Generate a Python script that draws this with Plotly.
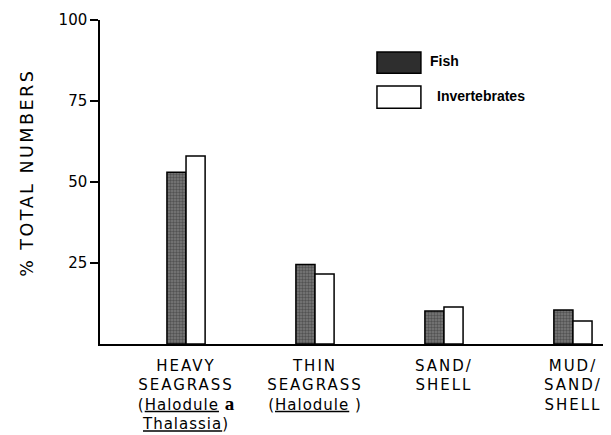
import plotly.graph_objects as go

categories = [
    "<span style='letter-spacing:2px'>HEAVY<br>SEAGRASS</span><br><span style='letter-spacing:1px'>(<u>Halodule</u> </span><span style='font-family:Liberation Serif;font-weight:bold;font-size:19px'>a</span><br><span style='letter-spacing:1px'><u>Thalassia</u>)</span>",
    "<span style='letter-spacing:2px'>THIN<br>SEAGRASS</span><br><span style='letter-spacing:1px'>(<u>Halodule</u> )</span>",
    "<span style='letter-spacing:2px'>SAND/<br>SHELL</span><br> <br> ",
    "<span style='letter-spacing:2px'>MUD/<br>SAND/<br>SHELL</span><br> ",
]
series_names = ["Fish", "Invertebrates"]
fish = [53, 24.5, 10.2, 10.5]
invertebrates = [58, 21.6, 11.4, 7.1]
y_ticks = [25, 50, 75, 100]
y_ticktext = ["25", "50", "75", "100"]
y_title = "% TOTAL NUMBERS"

xpos = list(range(len(categories)))
bw = 0.148

fig = go.Figure()
fig.add_trace(go.Bar(
    x=xpos, y=fish, name=series_names[0], width=bw, offset=-bw,
    marker=dict(color="#7a7a7a", line=dict(color="black", width=1.5),
                pattern=dict(shape=".", fgcolor="#2a2a2a", size=3, solidity=0.5)),
    showlegend=False,
))
fig.add_trace(go.Bar(
    x=xpos, y=invertebrates, name=series_names[1], width=bw, offset=0,
    marker=dict(color="white", line=dict(color="black", width=1.5)),
    showlegend=False,
))

# legend drawn manually
fig.add_shape(type="rect", xref="paper", yref="paper", x0=0.542, x1=0.628, y0=0.836, y1=0.901,
              fillcolor="#2e2e2e", line=dict(color="black", width=1.5))
fig.add_shape(type="rect", xref="paper", yref="paper", x0=0.542, x1=0.628, y0=0.728, y1=0.796,
              fillcolor="white", line=dict(color="black", width=1.5))
fig.add_annotation(xref="paper", yref="paper", x=0.642, y=0.872, text="<b>" + series_names[0] + "</b>",
                   showarrow=False, xanchor="left", yanchor="middle",
                   font=dict(family="Liberation Sans", size=14, color="black"))
fig.add_annotation(xref="paper", yref="paper", x=0.656, y=0.766, text="<b>" + series_names[1] + "</b>",
                   showarrow=False, xanchor="left", yanchor="middle",
                   font=dict(family="Liberation Sans", size=14, color="black"))
# y-axis title
fig.add_annotation(xref="paper", yref="paper", x=-0.143, y=0.528,
                   text="<span style='letter-spacing:2.5px'>" + y_title + "</span>",
                   textangle=-90, showarrow=False, xanchor="center", yanchor="middle",
                   font=dict(family="DejaVu Sans", size=17.5, color="black"))

fig.update_layout(
    width=603, height=427,
    margin=dict(l=92, r=0, t=12, b=91, autoexpand=False),
    plot_bgcolor="white", paper_bgcolor="white",
    barmode="overlay",
    font=dict(family="DejaVu Sans", color="black"),
    xaxis=dict(
        range=[-0.667, 3.295], tickmode="array", tickvals=xpos, ticktext=categories,
        showline=True, linecolor="black", linewidth=1.5, ticks="", showgrid=False,
        zeroline=False, tickfont=dict(size=15, family="DejaVu Sans"), tickangle=0,
        fixedrange=True, automargin=False, ticklabelstandoff=7,
    ),
    yaxis=dict(
        range=[0, 100], tickmode="array", tickvals=y_ticks, ticktext=y_ticktext,
        showline=True, linecolor="black", linewidth=1.5, ticks="outside", ticklen=8,
        tickwidth=1.5, tickcolor="black", showgrid=False, zeroline=False,
        tickfont=dict(size=15, family="DejaVu Sans"), automargin=False,
    ),
)

fig.write_html("out.html")
